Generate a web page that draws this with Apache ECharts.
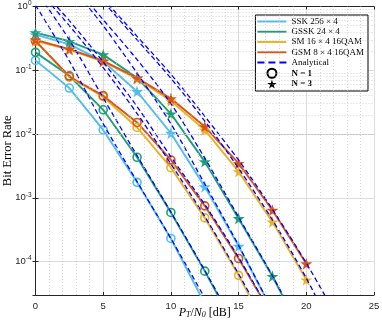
<!DOCTYPE html>
<html>
<head>
<meta charset="utf-8">
<script src="https://cdn.jsdelivr.net/npm/echarts@6/dist/echarts.min.js"></script>
<style>
  html, body { margin: 0; padding: 0; background: #fff; }
  #main { width: 382px; height: 323px; }
</style>
</head>
<body>
<div id="main"></div>
<script>
// SNR points of the simulations [dB]
var snr = [0, 2.5, 5, 7.5, 10, 12.5, 15, 17.5, 20];
// SNR points of the analytical bounds [dB]
var snrAna = [0, 2.5, 5, 7.5, 10, 12.5, 15, 17.5, 20, 22.5];

// simulated BER, N = 1
var sskN1 = [0.143, 0.0527, 0.0116, 1.75e-3, 2.31e-4, 2.2e-5];
var gsskN1 = [0.191, 0.082, 0.024, 4.33e-3, 5.9e-4, 7.1e-5, 7.5e-6];
var smN1 = [0.29, 0.078, 0.0385, 0.0127, 2.97e-3, 4.86e-4, 6.1e-5, 6e-6];
var gsmN1 = [0.29, 0.08, 0.04, 0.0152, 3.93e-3, 7.5e-4, 1.12e-4, 1.4e-5];
// simulated BER, N = 3
var sskN3 = [0.363, 0.255, 0.138, 0.0466, 0.0103, 1.5e-3, 1.75e-4, 1.7e-5];
var gsskN3 = [0.39, 0.285, 0.176, 0.0766, 0.0208, 3.7e-3, 4.75e-4, 5.9e-5, 5.5e-6];
var smN3 = [0.29, 0.21, 0.137, 0.074, 0.033, 0.0116, 2.58e-3, 4.2e-4, 5.2e-5];
var gsmN3 = [0.30, 0.215, 0.14, 0.076, 0.036, 0.0131, 3.48e-3, 6.4e-4, 9.3e-5];

// analytical bounds (values above 1 are clipped by the axis)
var anaSskN1 = [1.05, 0.14, 0.0145, 1.8e-3, 2.3e-4, 2.7e-5, 3e-6];
var anaGsskN1 = [1.8, 0.3, 0.037, 4.6e-3, 6e-4, 7.3e-5, 8e-6];
var anaSmN1 = [2.0, 0.5, 0.11, 0.021, 3.4e-3, 5.1e-4, 6.4e-5, 7e-6];
var anaGsmN1 = [2.3, 0.6, 0.135, 0.027, 4.4e-3, 7.9e-4, 1.16e-4, 1.4e-5, 1.5e-6];
var anaSskN3 = [8, 2.2, 0.5, 0.09, 0.0145, 1.65e-3, 1.8e-4, 1.7e-5, 1.4e-6];
var anaGsskN3 = [10, 2.6, 0.62, 0.147, 0.03, 4.2e-3, 5e-4, 6e-5, 6e-6];
var anaSmN3 = [20, 5, 1.2, 0.3, 0.075, 0.016, 2.9e-3, 4.5e-4, 5.5e-5, 5e-6];
var anaGsmN3 = [24, 6, 1.35, 0.34, 0.087, 0.019, 3.9e-3, 6.6e-4, 9.5e-5, 1.1e-5];

var names = ['SSK 256 × 4', 'GSSK 24 × 4', 'SM 16 × 4 16QAM', 'GSM 8 × 4 16QAM'];
var colors = ['#4DBEEE', '#1E9E78', '#EDB120', '#D95319'];

// minor grid positions
var xMinor = [];
for (var i = 1; i < 25; i++) if (i % 5 !== 0) xMinor.push(i);
var yMinor = [];
for (var e = -5; e < 0; e++) {
  for (var k = 2; k <= 9; k++) {
    var v = k * Math.pow(10, e);
    if (v > 3e-5 && v < 1) yMinor.push(v);
  }
}

var star = 'path://M50,0 L61,35 L98,35 L68,57 L79,91 L50,70 L21,91 L32,57 L2,35 L39,35 Z';
var lineIcon = 'path://M0,0h30v2h-30z';
var dashIcon = 'path://M0,0h7v2h-7z M11,0h7v2h-7z M22,0h7v2h-7z';

function pairs(xs, ys) {
  var out = [];
  for (var j = 0; j < ys.length; j++) out.push([xs[j], ys[j]]);
  return out;
}

function simSeries(idx, ys, n) {
  var isStar = n === 3;
  return {
    name: names[idx],
    type: 'line',
    data: pairs(snr, ys),
    clip: true,
    symbol: isStar ? star : 'circle',
    symbolSize: isStar ? 12 : 8,
    showAllSymbol: true,
    lineStyle: { color: colors[idx], width: 1.9 },
    itemStyle: isStar
      ? { color: colors[idx] }
      : { color: 'rgba(255,255,255,0)', borderColor: colors[idx], borderWidth: 1.6 },
    z: 3
  };
}

function anaSeries(ys) {
  return {
    name: 'Analytical',
    type: 'line',
    data: pairs(snrAna, ys),
    clip: true,
    smooth: 0.3,
    symbol: 'none',
    lineStyle: { color: '#0000FF', width: 1.3, type: [5, 3] },
    itemStyle: { color: '#0000FF' },
    z: 4
  };
}

var series = [
  simSeries(0, sskN1, 1), simSeries(1, gsskN1, 1), simSeries(2, smN1, 1), simSeries(3, gsmN1, 1),
  simSeries(0, sskN3, 3), simSeries(1, gsskN3, 3), simSeries(2, smN3, 3), simSeries(3, gsmN3, 3),
  anaSeries(anaSskN1), anaSeries(anaGsskN1), anaSeries(anaSmN1), anaSeries(anaGsmN1),
  anaSeries(anaSskN3), anaSeries(anaGsskN3), anaSeries(anaSmN3), anaSeries(anaGsmN3),
  // legend-only entries for the markers
  { name: 'N = 1', type: 'line', data: [], itemStyle: { color: '#000' } },
  { name: 'N = 3', type: 'line', data: [], itemStyle: { color: '#000' } },
  // minor grid (dotted)
  {
    name: 'grid', type: 'line', data: [], silent: true, z: 1,
    markLine: {
      silent: true, symbol: 'none', animation: false,
      label: { show: false },
      lineStyle: { color: '#c4c4c4', width: 0.7, type: [1, 2] },
      data: xMinor.map(function (x) { return { xAxis: x }; })
        .concat(yMinor.map(function (y) { return { yAxis: y }; }))
    }
  }
];

var serif = 'Liberation Serif';
var legendText = { fontFamily: serif, fontSize: 9, lineHeight: 10, color: '#000' };

var myChart = echarts.init(document.getElementById('main'));
var option = {
  animation: false,
  grid: { left: 35.5, right: 8, top: 6.5, bottom: 28, containLabel: false, outerBoundsMode: 'none' },
  legend: {
    orient: 'vertical',
    right: 14,
    top: 15,
    backgroundColor: '#fff',
    borderColor: '#000',
    borderWidth: 1,
    borderRadius: 0,
    padding: [1.5, 4, 2, 2],
    itemWidth: 29,
    itemHeight: 9,
    itemGap: 0.25,
    textStyle: legendText,
    selectedMode: false,
    data: [
      { name: names[0], icon: lineIcon, itemStyle: { color: colors[0], borderWidth: 0 } },
      { name: names[1], icon: lineIcon, itemStyle: { color: colors[1], borderWidth: 0 } },
      { name: names[2], icon: lineIcon, itemStyle: { color: colors[2], borderWidth: 0 } },
      { name: names[3], icon: lineIcon, itemStyle: { color: colors[3], borderWidth: 0 } },
      { name: 'Analytical', icon: dashIcon, itemStyle: { color: '#0000FF', borderWidth: 0 } },
      { name: 'N = 1', icon: 'circle',
        itemStyle: { color: 'rgba(255,255,255,0)', borderColor: '#000', borderWidth: 2 },
        textStyle: { fontWeight: 'bold' } },
      { name: 'N = 3', icon: star, itemStyle: { color: '#000', borderWidth: 0 },
        textStyle: { fontWeight: 'bold' } }
    ]
  },
  xAxis: [{
    type: 'value',
    min: 0, max: 25, interval: 5,
    name: '{i|P}{sub|T}{n|/}{i|N}{sub|0}{n| [dB]}',
    nameLocation: 'middle',
    nameGap: 12,
    nameMoveOverlap: false,
    nameTextStyle: {
      rich: {
        i: { fontFamily: serif, fontStyle: 'italic', fontSize: 12, color: '#000' },
        n: { fontFamily: serif, fontSize: 12, color: '#000' },
        sub: { fontFamily: serif, fontStyle: 'italic', fontSize: 8, color: '#000', padding: [4, 0, 0, 0] }
      }
    },
    axisLine: { lineStyle: { color: '#262626', width: 1 } },
    axisTick: { inside: true, length: 3, lineStyle: { color: '#262626' } },
    axisLabel: { color: '#262626', fontSize: 9.5, fontFamily: 'Liberation Sans', margin: 6 },
    splitLine: { show: true, lineStyle: { color: '#dcdcdc', width: 1 } }
  }, {
    type: 'value', position: 'top',
    min: 0, max: 25, interval: 5,
    axisLine: { show: true, lineStyle: { color: '#262626', width: 1 } },
    axisTick: { inside: true, length: 3, lineStyle: { color: '#262626' } },
    axisLabel: { show: false },
    splitLine: { show: false }
  }],
  yAxis: [{
    type: 'log',
    logBase: 10,
    min: 3e-5, max: 1,
    name: 'Bit Error Rate',
    nameLocation: 'middle',
    nameGap: 21,
    nameMoveOverlap: false,
    nameTextStyle: { fontFamily: serif, fontSize: 12.5, color: '#000' },
    axisLine: { show: true, lineStyle: { color: '#262626', width: 1 } },
    axisTick: { show: true, inside: true, length: 3, lineStyle: { color: '#262626' } },
    axisLabel: {
      color: '#262626', fontFamily: 'Liberation Sans', margin: 4,
      formatter: function (val) {
        var p = Math.log10(val);
        var r = Math.round(p);
        if (Math.abs(p - r) > 1e-6) return '';
        return '{b|10}{s|' + (r === 0 ? '0' : '-' + (-r)) + '}';
      },
      rich: {
        b: { fontSize: 9.5, color: '#262626', fontFamily: 'Liberation Sans' },
        s: { fontSize: 6.5, color: '#262626', fontFamily: 'Liberation Sans', padding: [0, 0, 6, 0] }
      }
    },
    splitLine: { show: true, lineStyle: { color: '#dcdcdc', width: 1 } }
  }, {
    type: 'log', position: 'right',
    logBase: 10,
    min: 3e-5, max: 1,
    axisLine: { show: true, lineStyle: { color: '#262626', width: 1 } },
    axisTick: { show: true, inside: true, length: 3, lineStyle: { color: '#262626' } },
    axisLabel: { show: false },
    splitLine: { show: false }
  }],
  series: series
};

myChart.setOption(option);
</script>
</body>
</html>
